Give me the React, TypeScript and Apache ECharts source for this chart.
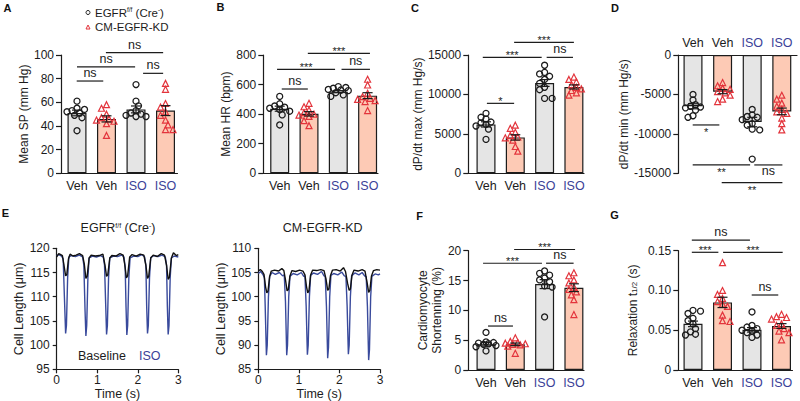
import React, { useEffect, useRef } from "react";
import * as echarts from "echarts";

const FONT = "'Liberation Sans', Arial, Helvetica, sans-serif";
const INK = "#1c1c1c";
const ISO_BLUE = "#3b3f98";
const RED = "#e3343c";
const GREY_FILL = "#e5e5e5";
const SALMON_FILL = "#fdcab5";
const TRACE_BLUE = "#394a9c";

const GROUPS = ["Veh", "Veh", "ISO", "ISO"];
const CTRL_NAME = "EGFR f/f (Cre-)";
const KD_NAME = "CM-EGFR-KD";

// ---------- A: Mean SP ----------
const spMeans = [51, 46, 54, 53];
const spSem = [2.4, 2.6, 2.9, 4.2];
const spCtrlVeh = [61, 55, 54, 53, 52, 51, 49, 47, 36];
const spKdVeh = [58, 55, 50, 47, 46, 45, 44, 42, 32];
const spCtrlIso = [75, 61, 57, 53, 51, 50, 49, 48, 48];
const spKdIso = [76, 71, 59, 56, 52, 49, 45, 41, 37, 37];
const spSig: any[] = [
  [-0.01, 0.89, 78, "ns"],
  [0, 1.97, 90, "ns"],
  [0.98, 2.92, 102, "ns"],
  [2.24, 2.92, 84.5, "ns"],
];

// ---------- B: Mean HR ----------
const hrMeans = [437, 402, 552, 525];
const hrSem = [17, 15, 7, 20];
const hrCtrlVeh = [520, 470, 455, 447, 440, 430, 420, 395, 327];
const hrKdVeh = [473, 450, 428, 410, 400, 394, 385, 356, 322];
const hrCtrlIso = [586, 580, 575, 567, 563, 559, 545, 530, 520];
const hrKdIso = [636, 597, 541, 518, 507, 500, 492, 485, 424];
const hrSig: any[] = [
  [0.07, 0.96, 570, "ns"],
  [-0.09, 1.89, 703, "***"],
  [2.11, 3.08, 703, "ns"],
  [0.96, 3.08, 811, "***"],
];

// ---------- C: dP/dt max ----------
const dpMaxMeans = [6200, 4550, 11450, 10950];
const dpMaxSem = [330, 340, 430, 260];
const dpMaxCtrlVeh = [7600, 7100, 6900, 6500, 6400, 6200, 6000, 5600, 4300];
const dpMaxKdVeh = [6100, 5700, 5200, 4800, 4600, 4500, 4200, 3400, 2800];
const dpMaxCtrlIso = [13700, 12800, 12600, 12300, 11900, 11400, 10900, 10600, 9500, 9500];
const dpMaxKdIso = [12200, 11900, 11600, 11200, 10900, 10700, 10500, 10200, 9900];
const dpMaxSig: any[] = [
  [0.03, 0.96, 8870, "*"],
  [-0.11, 1.9, 14700, "***"],
  [2.07, 2.97, 14700, "ns"],
  [0.96, 3.0, 16600, "***"],
];

// ---------- D: dP/dt min ----------
const dpMinMeans = [-6500, -4650, -8500, -7150];
const dpMinSem = [320, 260, 600, 420];
const dpMinCtrlVeh = [-5000, -5700, -6300, -6500, -6600, -6700, -7000, -7700, -7900];
const dpMinKdVeh = [-3500, -3900, -4200, -4350, -4650, -4800, -5100, -5600, -5900];
const dpMinCtrlIso = [-6900, -7600, -7800, -7900, -8200, -8700, -8900, -9400, -9500, -13200];
const dpMinKdIso = [-5100, -5600, -6100, -6500, -6900, -7200, -7400, -8000, -8700, -9500];
const dpMinSig: any[] = [
  [-0.01, 0.89, -8870, "*", 1],
  [-0.01, 1.93, -13940, "**", 1],
  [2.07, 3.02, -13940, "ns", 1],
  [0.97, 3.02, -16180, "**", 1],
];

// ---------- E: cell length traces [time s, length µm] ----------
const ctrlBaseline = [
  [0, 118.2], [0.05, 118.9], [0.1, 118.7], [0.14, 118.5], [0.18, 116.5], [0.22, 114.3], [0.25, 114.6], [0.29, 117.8],
  [0.33, 118.8], [0.4, 118.4], [0.48, 118.6], [0.56, 118.9], [0.64, 118.5], [0.68, 116.8], [0.72, 113.8], [0.75, 114.2],
  [0.8, 118], [0.85, 118.6], [0.95, 118.4], [1.05, 118.5], [1.14, 118.8], [1.19, 116.6], [1.23, 114.2], [1.26, 114.5],
  [1.31, 118], [1.36, 118.5], [1.46, 118.4], [1.56, 118.9], [1.64, 118.6], [1.68, 116.6], [1.72, 113.9], [1.75, 114.3],
  [1.8, 118.2], [1.86, 118.7], [1.96, 118.4], [2.06, 118.8], [2.15, 118.6], [2.2, 116.5], [2.24, 113.8], [2.27, 114.2],
  [2.32, 118], [2.38, 118.6], [2.48, 118.3], [2.58, 118.9], [2.66, 118.6], [2.71, 116.5], [2.75, 113.6], [2.78, 114],
  [2.83, 118], [2.88, 119.1], [2.95, 118.5], [3, 118.7],
];
const ctrlIso = [
  [0, 118.5], [0.05, 118.7], [0.12, 118.4], [0.16, 117.8], [0.19, 110], [0.22, 102.4], [0.24, 104], [0.27, 114], [0.3, 118.2],
  [0.36, 118.5], [0.46, 118.3], [0.56, 118.6], [0.64, 118.2], [0.67, 116.5], [0.7, 107], [0.72, 101.9], [0.74, 104], [0.77, 114],
  [0.8, 118], [0.88, 118.4], [0.98, 118.2], [1.08, 118.5], [1.15, 118.2], [1.18, 116.5], [1.21, 108], [1.23, 102.2], [1.25, 104],
  [1.28, 114], [1.31, 118], [1.4, 118.4], [1.5, 118.3], [1.6, 118.6], [1.66, 118.2], [1.69, 116], [1.71, 108], [1.73, 102.1],
  [1.75, 104], [1.78, 114], [1.81, 118], [1.9, 118.4], [2, 118.3], [2.1, 118.7], [2.17, 118.2], [2.2, 116.5], [2.22, 108],
  [2.24, 102.4], [2.26, 104], [2.29, 114], [2.32, 118.1], [2.4, 118.5], [2.5, 118.3], [2.6, 118.6], [2.68, 118.2], [2.71, 116.5],
  [2.73, 108], [2.75, 102.2], [2.77, 104], [2.8, 114], [2.83, 118], [2.9, 118.4], [3, 118.2],
];
const kdBaseline = [
  [0, 105.3], [0.05, 105.6], [0.1, 105.2], [0.14, 104.6], [0.18, 102], [0.21, 100.8], [0.24, 101.2], [0.28, 104.2], [0.32, 105.3],
  [0.4, 105.5], [0.5, 105.3], [0.58, 105.8], [0.63, 105.4], [0.67, 103.5], [0.71, 101.2], [0.74, 101.5], [0.78, 104.3], [0.83, 105.4],
  [0.92, 105.2], [1.02, 105.5], [1.1, 105.3], [1.15, 104.5], [1.19, 102], [1.22, 100.8], [1.25, 101.3], [1.29, 104.5], [1.34, 105.5],
  [1.44, 105.4], [1.54, 105.6], [1.62, 105.4], [1.67, 103.6], [1.71, 101.3], [1.74, 101.6], [1.78, 104.4], [1.83, 105.5], [1.92, 105.6],
  [2.02, 105.3], [2.1, 106], [2.15, 105.2], [2.2, 102.8], [2.24, 101.3], [2.27, 101.6], [2.31, 104.5], [2.36, 105.5], [2.46, 105.3],
  [2.56, 105.6], [2.63, 105.3], [2.68, 103], [2.72, 100.9], [2.75, 101.3], [2.79, 104.3], [2.84, 105.4], [2.92, 105.6], [3, 105.5],
];
const kdIso = [
  [0, 104.8], [0.06, 105.2], [0.12, 104.5], [0.15, 103.9], [0.17, 98], [0.2, 87.9], [0.22, 90], [0.25, 100], [0.28, 104.2],
  [0.34, 105], [0.42, 104.6], [0.52, 105], [0.6, 104.3], [0.64, 104.5], [0.67, 99], [0.7, 87.9], [0.72, 90], [0.75, 100],
  [0.78, 104.2], [0.86, 104.8], [0.96, 104.5], [1.06, 105], [1.12, 104.2], [1.15, 104.3], [1.18, 98], [1.21, 88], [1.23, 90],
  [1.26, 100], [1.29, 104.4], [1.36, 104.9], [1.46, 104.6], [1.56, 105.2], [1.62, 104.3], [1.65, 104.2], [1.68, 98], [1.71, 87.3],
  [1.73, 89.5], [1.76, 100], [1.79, 104.4], [1.86, 104.8], [1.96, 104.5], [2.06, 105.1], [2.12, 104.3], [2.16, 104.2], [2.19, 98],
  [2.22, 88.1], [2.24, 90], [2.27, 100], [2.3, 104.3], [2.38, 104.9], [2.48, 104.5], [2.56, 105], [2.62, 104.3], [2.66, 104.1],
  [2.69, 98], [2.72, 86.9], [2.74, 89], [2.77, 100], [2.8, 104.2], [2.88, 104.7], [2.96, 104.5], [3, 104.7],
];

// ---------- F: shortening ----------
const shortMeans = [4.3, 4.3, 14.4, 13.8];
const shortSem = [0.3, 0.22, 0.75, 0.65];
const shortCtrlVeh = [6.3, 4.7, 4.6, 4.5, 4.4, 4.3, 4.1, 3.9, 3.2];
const shortKdVeh = [5.4, 4.8, 4.6, 4.5, 4.4, 4.3, 4.2, 4.0, 2.8];
const shortCtrlIso = [16.6, 16.2, 15.9, 15.4, 15.1, 14.8, 14.1, 13.9, 8.9];
const shortKdIso = [16.3, 15.8, 15.1, 14.6, 13.9, 13.5, 13.1, 12.6, 11.8, 9.3];
const shortSig: any[] = [
  [0.07, 0.92, 7.37, "ns"],
  [-0.1, 1.91, 17.9, "***"],
  [2.05, 2.99, 17.9, "ns"],
  [0.96, 3.04, 20.2, "***"],
];

// ---------- G: relaxation t1/2 ----------
const relaxMeans = [0.058, 0.085, 0.0505, 0.0553];
const relaxSem = [0.0035, 0.0065, 0.0028, 0.003];
const relaxCtrlVeh = [0.075, 0.074, 0.071, 0.065, 0.062, 0.058, 0.052, 0.048, 0.045, 0.044];
const relaxKdVeh = [0.135, 0.1, 0.095, 0.09, 0.086, 0.083, 0.08, 0.069, 0.062, 0.061];
const relaxCtrlIso = [0.073, 0.056, 0.054, 0.052, 0.05, 0.049, 0.047, 0.044, 0.041];
const relaxKdIso = [0.07, 0.067, 0.066, 0.064, 0.058, 0.056, 0.052, 0.049, 0.047, 0.038];
const relaxSig: any[] = [
  [-0.04, 0.86, 0.148, "***"],
  [1.02, 3.04, 0.148, "***"],
  [-0.04, 1.93, 0.1634, "ns"],
  [1.99, 2.89, 0.0943, "ns"],
];

// ---------- layout ----------
interface Layout { left: number; c0: number; sp: number; right: number; top: number; bottom: number }

const LAY_A: Layout = { left: 61, c0: 77, sp: 29.5, right: 177.5, top: 55, bottom: 173.3 };
const LAY_B: Layout = { left: 263.3, c0: 279.7, sp: 29.3, right: 378, top: 55, bottom: 173.3 };
const LAY_C: Layout = { left: 468.3, c0: 486, sp: 29.3, right: 584, top: 55, bottom: 173.3 };
const LAY_D: Layout = { left: 678.3, c0: 693, sp: 29.6, right: 797, top: 55, bottom: 173.3 };
const LAY_F: Layout = { left: 468.3, c0: 486, sp: 29.3, right: 584, top: 250.7, bottom: 370 };
const LAY_G: Layout = { left: 678.3, c0: 693, sp: 29.5, right: 792.5, top: 250.7, bottom: 370 };

function swarm(vals: number[], xi: number, ppu: number, sp: number): number[][] {
  const order = vals.map((_, i) => i).sort((a, b) => vals[b] - vals[a]);
  const placed: number[][] = [];
  const out: number[][] = [];
  const minD = 5.2;
  const step = 2.5;
  for (const idx of order) {
    const py = vals[idx] * ppu;
    let off = 0;
    let found = false;
    let bestOff = 0;
    let bestD = -1;
    for (let k = 0; k <= 4 && !found; k++) {
      const cands = k === 0 ? [0] : k % 2 ? [k * step, -k * step] : [-k * step, k * step];
      for (const c of cands) {
        let md = Infinity;
        for (const q of placed) md = Math.min(md, Math.hypot(q[0] - c, q[1] - py));
        if (md >= minD) {
          off = c;
          found = true;
          break;
        }
        if (md > bestD) {
          bestD = md;
          bestOff = c;
        }
      }
    }
    if (!found) off = bestOff;
    placed.push([off, py]);
    out.push([xi + off / sp, vals[idx]]);
  }
  return out;
}

const axisLineStyle = { color: INK, width: 1.2 };

function barPanel(
  gi: number,
  L: Layout,
  yr: { min: number; max: number; interval: number; fmt?: (v: number) => string },
  yName: string,
  nameGap: number,
  means: number[],
  sems: number[],
  groups: number[][],
  sig: any[],
  topAxis = false,
  nameExtra: any = {}
) {
  const xMin = -(L.c0 - L.left) / L.sp;
  const xMax = (L.right - L.c0) / L.sp;
  const ppu = (L.bottom - L.top) / (yr.max - yr.min);
  const grid = {
    left: L.left,
    top: L.top,
    width: L.right - L.left,
    height: L.bottom - L.top,
    containLabel: false,
    outerBoundsMode: "none",
  };
  const xAxis = {
    gridIndex: gi,
    type: "value",
    min: xMin,
    max: xMax,
    position: topAxis ? "top" : "bottom",
    axisLine: { show: true, onZero: false, lineStyle: axisLineStyle },
    axisTick: { show: false },
    splitLine: { show: false },
    axisLabel: {
      show: true,
      customValues: [0, 1, 2, 3],
      margin: 6,
      formatter: (v: number) => {
        const g = GROUPS[Math.round(v)];
        return g === "ISO" ? "{iso|ISO}" : "{veh|Veh}";
      },
      rich: {
        iso: { color: ISO_BLUE, fontSize: 12.5, fontFamily: FONT },
        veh: { color: INK, fontSize: 12.5, fontFamily: FONT },
      },
    },
  };
  const yAxis = {
    gridIndex: gi,
    type: "value",
    min: yr.min,
    max: yr.max,
    interval: yr.interval,
    axisLine: { show: true, onZero: false, lineStyle: axisLineStyle },
    axisTick: { show: true, inside: false, length: 5, lineStyle: axisLineStyle },
    splitLine: { show: false },
    axisLabel: {
      fontSize: 12,
      color: INK,
      margin: 7,
      fontFamily: FONT,
      formatter: yr.fmt ? yr.fmt : (v: number) => String(v),
    },
    name: yName,
    nameLocation: "middle",
    nameGap,
    nameTextStyle: { fontSize: 12, color: INK, fontFamily: FONT, ...nameExtra },
  };
  const series: any[] = [
    {
      type: "bar",
      xAxisIndex: gi,
      yAxisIndex: gi,
      barWidth: 19,
      silent: true,
      z: 2,
      itemStyle: { borderColor: INK, borderWidth: 1.2 },
      data: means.map((m, i) => ({
        value: [i, m],
        itemStyle: { color: i % 2 ? SALMON_FILL : GREY_FILL, borderColor: INK, borderWidth: 1.2 },
      })),
    },
    {
      type: "scatter",
      name: CTRL_NAME,
      xAxisIndex: gi,
      yAxisIndex: gi,
      symbol: "circle",
      symbolSize: 6,
      silent: true,
      z: 3,
      itemStyle: { color: "rgba(255,255,255,0)", borderColor: INK, borderWidth: 1.3, opacity: 1 },
      data: [...swarm(groups[0], 0, ppu, L.sp), ...swarm(groups[2], 2, ppu, L.sp)],
    },
    {
      type: "scatter",
      name: KD_NAME,
      xAxisIndex: gi,
      yAxisIndex: gi,
      symbol: "triangle",
      symbolSize: 6,
      silent: true,
      z: 3,
      itemStyle: { color: "rgba(255,255,255,0)", borderColor: RED, borderWidth: 1.2, opacity: 1 },
      data: [...swarm(groups[1], 1, ppu, L.sp), ...swarm(groups[3], 3, ppu, L.sp)],
    },
    {
      type: "custom",
      xAxisIndex: gi,
      yAxisIndex: gi,
      silent: true,
      z: 4,
      encode: { x: 0, y: 1 },
      data: means.map((m, i) => [i, m, sems[i]]),
      renderItem: (params: any, api: any) => {
        const x = api.value(0);
        const m = api.value(1);
        const s = api.value(2);
        const t = api.coord([x, m + s]);
        const b = api.coord([x, m - s]);
        const hw = 5;
        const st = { stroke: INK, lineWidth: 1.2 };
        return {
          type: "group",
          children: [
            { type: "line", shape: { x1: t[0], y1: t[1], x2: b[0], y2: b[1] }, style: st },
            { type: "line", shape: { x1: t[0] - hw, y1: t[1], x2: t[0] + hw, y2: t[1] }, style: st },
            { type: "line", shape: { x1: b[0] - hw, y1: b[1], x2: b[0] + hw, y2: b[1] }, style: st },
          ],
        };
      },
    },
    {
      type: "custom",
      xAxisIndex: gi,
      yAxisIndex: gi,
      silent: true,
      z: 5,
      clip: false,
      encode: { x: [0, 1], y: 2 },
      data: sig.map((s) => [s[0], s[1], s[2]]),
      renderItem: (params: any, api: any) => {
        const s = sig[params.dataIndex];
        const below = !!s[4];
        const a = api.coord([api.value(0), api.value(2)]);
        const b = api.coord([api.value(1), api.value(2)]);
        const star = String(s[3]).indexOf("*") >= 0;
        const ty = below ? a[1] + (star ? 2 : 0) : a[1] + (star ? 3 : -1.5);
        return {
          type: "group",
          children: [
            { type: "line", shape: { x1: a[0], y1: a[1], x2: b[0], y2: b[1] }, style: { stroke: INK, lineWidth: 1.2 } },
            {
              type: "text",
              x: (a[0] + b[0]) / 2,
              y: ty,
              style: {
                text: s[3],
                fill: INK,
                fontSize: star ? 11 : 12.5,
                fontFamily: FONT,
                align: "center",
                verticalAlign: below ? "top" : "bottom",
              },
            },
          ],
        };
      },
    },
  ];
  return { grid, xAxis, yAxis, series };
}

function tracePanel(
  gi: number,
  rect: { left: number; top: number; width: number; height: number },
  yMin: number,
  yMax: number,
  base: number[][],
  iso: number[][],
  nameGap: number
) {
  const grid = { ...rect, containLabel: false, outerBoundsMode: "none" };
  const xAxis = {
    gridIndex: gi,
    type: "value",
    min: 0,
    max: 3,
    interval: 1,
    axisLine: { show: true, onZero: false, lineStyle: axisLineStyle },
    axisTick: { show: true, length: 4, lineStyle: axisLineStyle },
    splitLine: { show: false },
    axisLabel: { fontSize: 12, color: INK, margin: 5, fontFamily: FONT },
    name: "Time (s)",
    nameLocation: "middle",
    nameGap: 15.5,
    nameTextStyle: { fontSize: 12.5, color: INK, fontFamily: FONT },
  };
  const yAxis = {
    gridIndex: gi,
    type: "value",
    min: yMin,
    max: yMax,
    interval: 5,
    axisLine: { show: true, onZero: false, lineStyle: axisLineStyle },
    axisTick: { show: true, length: 4, lineStyle: axisLineStyle },
    splitLine: { show: false },
    axisLabel: { fontSize: 12, color: INK, margin: 7, fontFamily: FONT },
    name: "Cell Length (μm)",
    nameLocation: "middle",
    nameGap,
    nameTextStyle: { fontSize: 12.5, color: INK, fontFamily: FONT },
  };
  const series: any[] = [
    {
      type: "line",
      name: "ISO",
      xAxisIndex: gi,
      yAxisIndex: gi,
      showSymbol: false,
      silent: true,
      z: 2,
      lineStyle: { color: TRACE_BLUE, width: 1.4 },
      data: iso,
    },
    {
      type: "line",
      name: "Baseline",
      xAxisIndex: gi,
      yAxisIndex: gi,
      showSymbol: false,
      silent: true,
      z: 3,
      lineStyle: { color: "#111", width: 1.4 },
      data: base,
    },
  ];
  return { grid, xAxis, yAxis, series };
}

function buildOption() {
  const fmt2 = (v: number) => (v === 0 ? "0" : v.toFixed(2));
  const panels = [
    barPanel(0, LAY_A, { min: 0, max: 100, interval: 20 }, "Mean SP (mm Hg)", 25.5, spMeans, spSem,
      [spCtrlVeh, spKdVeh, spCtrlIso, spKdIso], spSig),
    barPanel(1, LAY_B, { min: 0, max: 800, interval: 200 }, "Mean HR (bpm)", 31, hrMeans, hrSem,
      [hrCtrlVeh, hrKdVeh, hrCtrlIso, hrKdIso], hrSig),
    barPanel(2, LAY_C, { min: 0, max: 15000, interval: 5000 }, "dP/dt max (mm Hg/s)", 37, dpMaxMeans, dpMaxSem,
      [dpMaxCtrlVeh, dpMaxKdVeh, dpMaxCtrlIso, dpMaxKdIso], dpMaxSig),
    barPanel(3, LAY_D, { min: -15000, max: 0, interval: 5000 }, "dP/dt min (mm Hg/s)", 46, dpMinMeans, dpMinSem,
      [dpMinCtrlVeh, dpMinKdVeh, dpMinCtrlIso, dpMinKdIso], dpMinSig, true),
    tracePanel(4, { left: 56.7, top: 248.3, width: 121.6, height: 121 }, 95, 120, ctrlBaseline, ctrlIso, 29.5),
    tracePanel(5, { left: 258.3, top: 248.3, width: 121.7, height: 121 }, 85, 110, kdBaseline, kdIso, 30.5),
    barPanel(6, LAY_F, { min: 0, max: 20, interval: 5 }, "Cardiomyocyte\nShortenning (%)", 22.5, shortMeans, shortSem,
      [shortCtrlVeh, shortKdVeh, shortCtrlIso, shortKdIso], shortSig, false, { lineHeight: 14 }),
    barPanel(7, LAY_G, { min: 0, max: 0.15, interval: 0.05, fmt: fmt2 }, "Relaxation t{sub|1/2} (s)", 39.5, relaxMeans,
      relaxSem, [relaxCtrlVeh, relaxKdVeh, relaxCtrlIso, relaxKdIso], relaxSig, false,
      { rich: { sub: { fontSize: 8, fontFamily: FONT, color: INK, verticalAlign: "bottom", lineHeight: 12 } } }),
  ];

  const letter = (t: string, x: number, y: number) => ({
    type: "text",
    x,
    y,
    silent: true,
    style: { text: t, fill: "#111", fontSize: 11, fontWeight: "bold", fontFamily: FONT, align: "center", verticalAlign: "middle" },
  });

  const graphic: any[] = [
    letter("A", 7.5, 8),
    letter("B", 220.5, 7),
    letter("C", 415, 8),
    letter("D", 615, 7.5),
    letter("E", 5.5, 213),
    letter("F", 419.5, 215.5),
    letter("G", 614.5, 214.5),
    {
      type: "text",
      x: 118,
      y: 228,
      silent: true,
      style: {
        text: "EGFR{sup|f/f} (Cre{sup|-})",
        fill: INK,
        fontSize: 12.5,
        fontFamily: FONT,
        align: "center",
        verticalAlign: "middle",
        rich: { sup: { fontSize: 7, fontFamily: FONT, fill: INK, verticalAlign: "top" } },
      },
    },
    {
      type: "text",
      x: 322.7,
      y: 228,
      silent: true,
      style: { text: "CM-EGFR-KD", fill: INK, fontSize: 12.5, fontFamily: FONT, align: "center", verticalAlign: "middle" },
    },
    {
      type: "text",
      x: 78,
      y: 355.7,
      silent: true,
      style: { text: "Baseline", fill: INK, fontSize: 12.5, fontFamily: FONT, align: "left", verticalAlign: "middle" },
    },
    {
      type: "text",
      x: 139,
      y: 355.7,
      silent: true,
      style: { text: "ISO", fill: ISO_BLUE, fontSize: 12.5, fontFamily: FONT, align: "left", verticalAlign: "middle" },
    },
  ];

  return {
    animation: false,
    backgroundColor: "#ffffff",
    textStyle: { fontFamily: FONT },
    legend: {
      left: 80.5,
      top: 0.5,
      orient: "vertical",
      itemWidth: 4,
      itemHeight: 4,
      itemGap: 0.5,
      selectedMode: false,
      itemStyle: { borderWidth: 1 },
      data: [
        { name: CTRL_NAME, icon: "circle" },
        { name: KD_NAME, icon: "triangle" },
      ],
      formatter: (n: string) => (n === CTRL_NAME ? "EGFR{sup|f/f} (Cre{sup|-})" : n),
      textStyle: {
        fontSize: 11.5,
        color: INK,
        fontFamily: FONT,
        lineHeight: 14,
        rich: { sup: { fontSize: 6.5, color: INK, fontFamily: FONT, verticalAlign: "top" } },
      },
    },
    grid: panels.map((p) => p.grid),
    xAxis: panels.map((p) => p.xAxis),
    yAxis: panels.map((p) => p.yAxis),
    series: panels.flatMap((p) => p.series),
    graphic,
  };
}

export default function App() {
  const ref = useRef<HTMLDivElement>(null);
  useEffect(() => {
    if (!ref.current) return;
    const chart = echarts.init(ref.current, undefined, { renderer: "svg" });
    chart.setOption(buildOption() as any);
    return () => chart.dispose();
  }, []);
  return (
    <div
      ref={ref}
      style={{ position: "fixed", left: 0, top: 0, width: 800, height: 401, background: "#fff" }}
    />
  );
}
